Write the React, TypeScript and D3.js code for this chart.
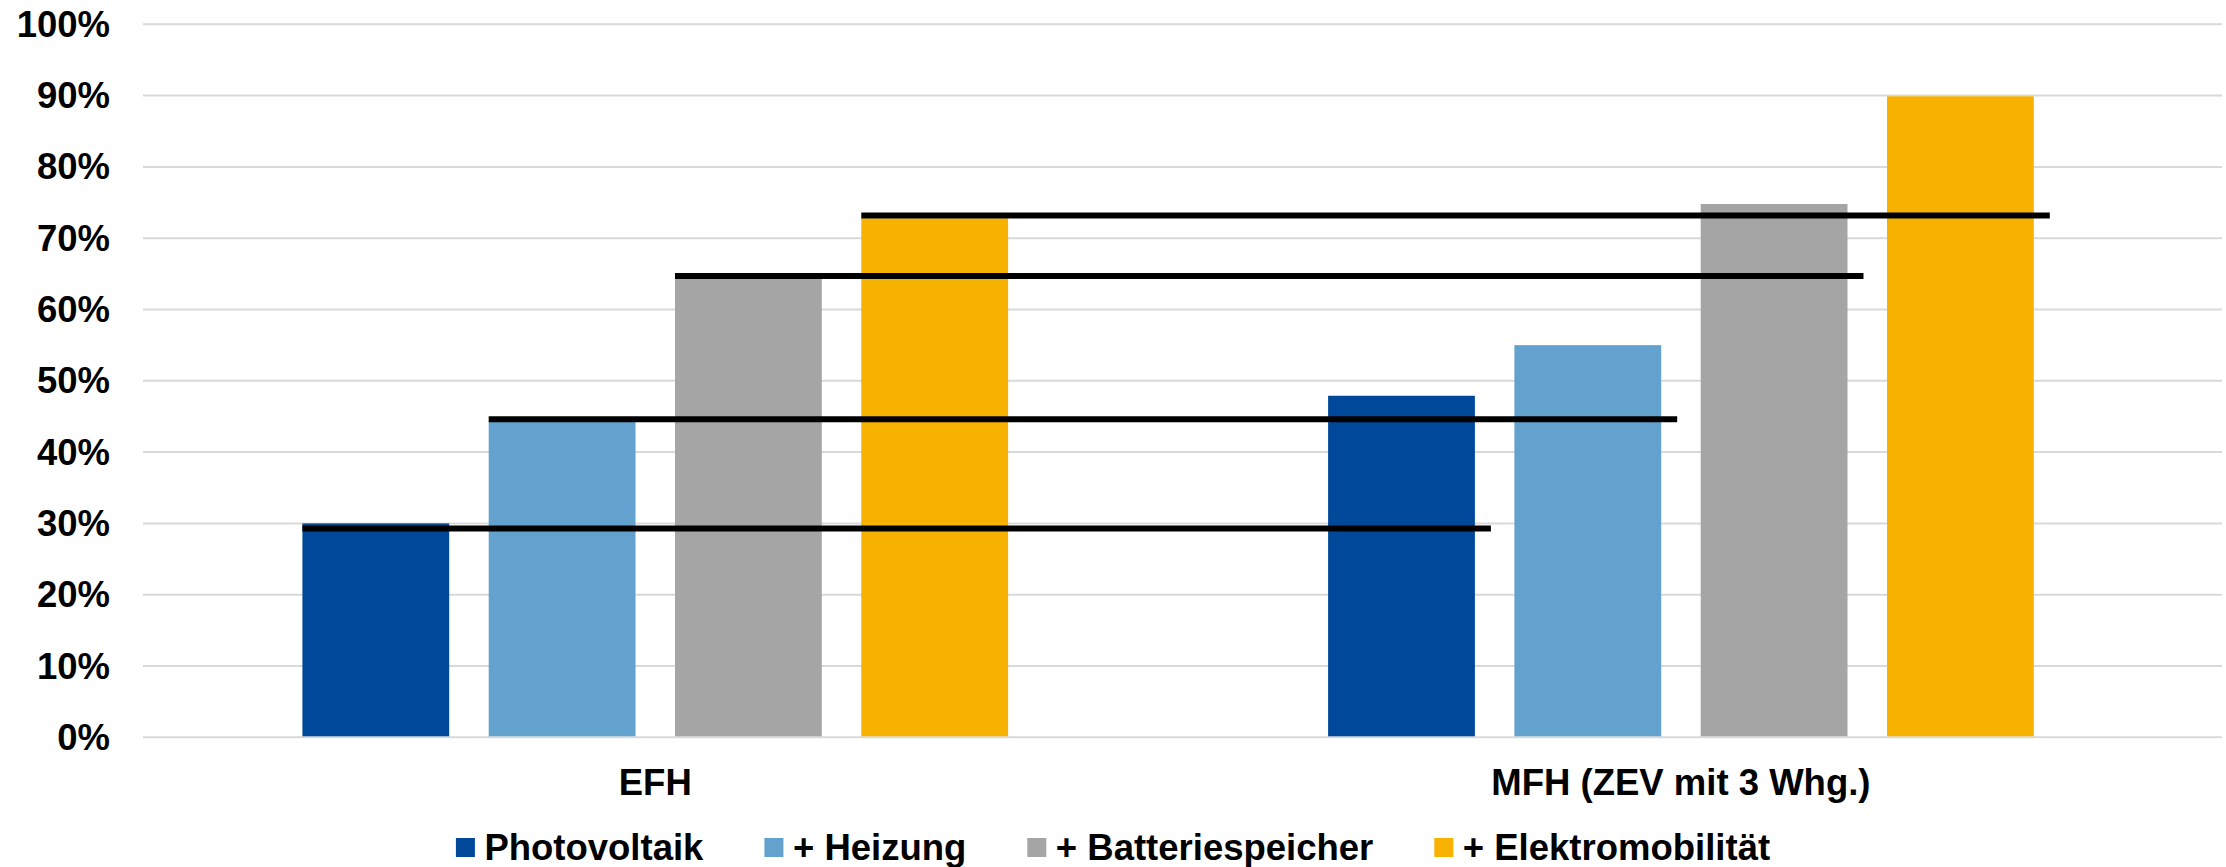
import React from "react";
import * as d3 from "d3";

const categories = ["EFH", "MFH (ZEV mit 3 Whg.)"];
const seriesNames = ["Photovoltaik", "+ Heizung", "+ Batteriespeicher", "+ Elektromobilität"];
const seriesColors = ["#00499A", "#63A1CF", "#A5A5A5", "#F7B200"];
const efhValues = [0.300, 0.443, 0.644, 0.728];
const mfhValues = [0.479, 0.550, 0.748, 0.899];
const refLineValues = [0.293, 0.446, 0.647, 0.732];
const yTicks = [0, 0.1, 0.2, 0.3, 0.4, 0.5, 0.6, 0.7, 0.8, 0.9, 1.0];

const W = 2226;
const H = 867;
const FONT = "'Liberation Sans', Arial, Helvetica, sans-serif";
const FS = 36.5;

function measure(text: string): number {
  const c = document.createElement("canvas");
  const ctx = c.getContext("2d")!;
  ctx.font = `bold ${FS}px ${FONT}`;
  return ctx.measureText(text).width;
}

export default function App() {
  const y = d3.scaleLinear().domain([0, 1]).range([737.3, 24.3]);
  const x0 = d3.scaleBand<string>().domain(categories).range([142.4, 2193.8]).paddingInner(0).paddingOuter(0);
  const groupPad = 160;
  const x1 = d3
    .scaleBand<string>()
    .domain(seriesNames)
    .range([groupPad, x0.bandwidth() - groupPad])
    .paddingInner(0.212)
    .paddingOuter(0);
  const data = [efhValues, mfhValues];
  const gridX0 = 143;
  const gridX1 = 2222;
  const lineOverhang = 16;

  // legend layout
  const sw = 19;
  const swGap = 9.5;
  const itemGap = 61;
  const widths = seriesNames.map((s) => measure(s));
  const itemW = widths.map((w) => sw + swGap + w);
  const total = d3.sum(itemW) + itemGap * (seriesNames.length - 1);
  let cursor = W / 2 - total / 2;
  const legendItems = seriesNames.map((s, i) => {
    const xPos = cursor;
    cursor += itemW[i] + itemGap;
    return { s, i, xPos };
  });
  const legendBaseline = 860;

  return (
    <svg
      width={W}
      height={H}
      style={{ position: "absolute", left: 0, top: 0, background: "#fff" }}
      fontFamily={FONT}
      fontWeight="bold"
    >
      <rect x={0} y={0} width={W} height={H} fill="#fff" />
      {yTicks.map((t) => (
        <g key={t}>
          <line x1={gridX0} x2={gridX1} y1={y(t)} y2={y(t)} stroke="#D9D9D9" strokeWidth={2} />
          <text x={110} y={y(t) + 12.5} textAnchor="end" fontSize={FS} fill="#000">
            {d3.format(".0%")(t)}
          </text>
        </g>
      ))}
      {categories.map((c, ci) => (
        <g key={c} transform={`translate(${x0(c)},0)`}>
          {seriesNames.map((s, si) => (
            <rect
              key={s}
              x={x1(s)}
              width={x1.bandwidth()}
              y={y(data[ci][si])}
              height={y(0) - y(data[ci][si]) - 1}
              fill={seriesColors[si]}
            />
          ))}
        </g>
      ))}
      {refLineValues.map((v, i) => {
        const s = seriesNames[i];
        const xs = (x0(categories[0]) as number) + (x1(s) as number);
        const xe = (x0(categories[1]) as number) + (x1(s) as number) + x1.bandwidth() + lineOverhang;
        return <line key={i} x1={xs} x2={xe} y1={y(v)} y2={y(v)} stroke="#000" strokeWidth={6} />;
      })}
      {categories.map((c) => (
        <text
          key={c}
          x={(x0(c) as number) + x0.bandwidth() / 2}
          y={795}
          textAnchor="middle"
          fontSize={FS}
          fill="#000"
        >
          {c}
        </text>
      ))}
      {legendItems.map(({ s, i, xPos }) => (
        <g key={s}>
          <rect x={xPos} y={legendBaseline - 22} width={sw} height={sw} fill={seriesColors[i]} />
          <text x={xPos + sw + swGap} y={legendBaseline} fontSize={FS} fill="#000">
            {s}
          </text>
        </g>
      ))}
    </svg>
  );
}
